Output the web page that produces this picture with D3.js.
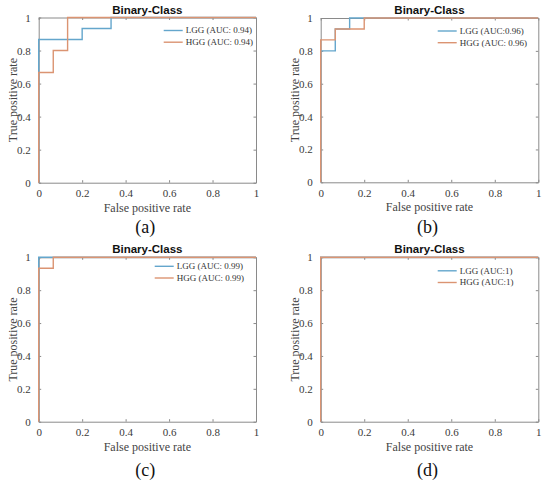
<!DOCTYPE html>
<html>
<head>
<meta charset="utf-8">
<script src="https://cdn.jsdelivr.net/npm/d3@7"></script>
<style>
  body { margin: 0; background: #fff; }
  svg { display: block; }
  .axis path, .axis line { stroke: #8a8a8a; }
  .axis text { font-family: "Liberation Serif", "Times New Roman", serif; font-size: 11px; fill: #3a3a3a; }
</style>
</head>
<body>
<svg id="chart" width="550" height="485"></svg>
<script>
// ROC points (false positive rate, true positive rate) per panel
const fprA_LGG = [0, 0, 0.2, 0.333, 1];
const tprA_LGG = [0, 0.867, 0.933, 1, 1];
const fprA_HGG = [0, 0, 0.067, 0.133, 1];
const tprA_HGG = [0, 0.667, 0.8, 1, 1];

const fprB_LGG = [0, 0, 0.067, 0.133, 1];
const tprB_LGG = [0, 0.8, 0.933, 1, 1];
const fprB_HGG = [0, 0, 0.067, 0.2, 1];
const tprB_HGG = [0, 0.867, 0.933, 1, 1];

const fprC_LGG = [0, 0, 1];
const tprC_LGG = [0, 1, 1];
const fprC_HGG = [0, 0, 0.067, 1];
const tprC_HGG = [0, 0.933, 1, 1];

const fprD_LGG = [0, 0, 1];
const tprD_LGG = [0, 1, 1];
const fprD_HGG = [0, 0, 1];
const tprD_HGG = [0, 1, 1];

const legendA = ['LGG (AUC: 0.94)', 'HGG (AUC: 0.94)'];
const legendB = ['LGG (AUC:0.96)', 'HGG (AUC: 0.96)'];
const legendC = ['LGG (AUC: 0.99)', 'HGG (AUC: 0.99)'];
const legendD = ['LGG (AUC:1)', 'HGG (AUC:1)'];

const tickValues = [0, 0.2, 0.4, 0.6, 0.8, 1];
const panelLabels = ['(a)', '(b)', '(c)', '(d)'];
const seriesColors = ['#64a6cc', '#db9472'];

const zip = (xs, ys) => xs.map((x, i) => ({ x: x, y: ys[i] }));

const panels = [
    { left: 38.7, top: 17.5, right: 256, bottom: 182.7, legX: 125, legY: 13, labY: 50,
      series: [zip(fprA_LGG, tprA_LGG), zip(fprA_HGG, tprA_HGG)], legend: legendA },
    { left: 320.7, top: 18, right: 538.3, bottom: 182.3, legX: 117, legY: 13, labY: 51,
      series: [zip(fprB_LGG, tprB_LGG), zip(fprB_HGG, tprB_HGG)], legend: legendB },
    { left: 38.7, top: 257.3, right: 256, bottom: 421.7, legX: 116, legY: 9, labY: 54,
      series: [zip(fprC_LGG, tprC_LGG), zip(fprC_HGG, tprC_HGG)], legend: legendC },
    { left: 320.7, top: 257.3, right: 538.3, bottom: 421.7, legX: 117, legY: 13.5, labY: 54,
      series: [zip(fprD_LGG, tprD_LGG), zip(fprD_HGG, tprD_HGG)], legend: legendD }
];

const svg = d3.select('#chart');

panels.forEach((p, idx) => {
    const width = p.right - p.left;
    const height = p.bottom - p.top;
    const g = svg.append('g').attr('transform', `translate(${p.left}, ${p.top})`);
    const xScale = d3.scaleLinear().domain([0, 1]).range([0, width]);
    const yScale = d3.scaleLinear().domain([0, 1]).range([height, 0]);
    const fmt = d => d === 0 || d === 1 ? String(d) : d3.format('.1f')(d);

    // box with inward ticks on all four sides
    g.append('g').attr('class', 'axis')
        .attr('transform', `translate(0, ${height})`)
        .call(d3.axisBottom(xScale).tickValues(tickValues).tickFormat(fmt).tickSizeInner(-2.5).tickSizeOuter(0).tickPadding(7));
    g.append('g').attr('class', 'axis')
        .call(d3.axisLeft(yScale).tickValues(tickValues).tickFormat(fmt).tickSizeInner(-2.5).tickSizeOuter(0).tickPadding(8));
    g.append('g').attr('class', 'axis')
        .call(d3.axisTop(xScale).tickValues(tickValues).tickFormat('').tickSizeInner(-2.5).tickSizeOuter(0));
    g.append('g').attr('class', 'axis')
        .attr('transform', `translate(${width}, 0)`)
        .call(d3.axisRight(yScale).tickValues(tickValues).tickFormat('').tickSizeInner(-2.5).tickSizeOuter(0));

    const line = d3.line()
        .x(d => xScale(d.x))
        .y(d => yScale(d.y))
        .curve(d3.curveStepAfter);

    g.selectAll('path.roc')
        .data(p.series)
        .enter()
        .append('path')
        .attr('class', 'roc')
        .attr('d', line)
        .attr('fill', 'none')
        .attr('stroke', (d, i) => seriesColors[i])
        .attr('stroke-width', 1.4);

    // legend
    const legend = g.selectAll('g.legend')
        .data(p.legend)
        .enter()
        .append('g')
        .attr('class', 'legend')
        .attr('transform', (d, i) => `translate(${p.legX}, ${p.legY + i * 11.7})`);
    legend.append('line')
        .attr('x1', 0)
        .attr('x2', 19)
        .attr('stroke', (d, i) => seriesColors[i])
        .attr('stroke-width', 1.4);
    legend.append('text')
        .attr('x', 22)
        .attr('dy', '0.32em')
        .attr('font-family', '"Liberation Serif", serif')
        .attr('font-size', 9)
        .attr('fill', '#333')
        .text(d => d);

    // title, axis labels, panel label
    g.append('text')
        .attr('x', width / 2)
        .attr('y', -4)
        .attr('text-anchor', 'middle')
        .attr('font-family', '"Liberation Sans", Arial, sans-serif')
        .attr('font-weight', 'bold')
        .attr('font-size', 11.5)
        .attr('fill', '#111')
        .text('Binary-Class');
    g.append('text')
        .attr('x', width / 2)
        .attr('y', height + 29)
        .attr('text-anchor', 'middle')
        .attr('font-family', '"Liberation Serif", serif')
        .attr('font-size', 12)
        .attr('fill', '#444')
        .text('False positive rate');
    g.append('text')
        .attr('transform', `translate(-22, ${height / 2}) rotate(-90)`)
        .attr('text-anchor', 'middle')
        .attr('font-family', '"Liberation Serif", serif')
        .attr('font-size', 12)
        .attr('fill', '#444')
        .text('True positive rate');
    g.append('text')
        .attr('x', width / 2 - 2)
        .attr('y', height + p.labY)
        .attr('text-anchor', 'middle')
        .attr('font-family', '"Liberation Serif", serif')
        .attr('font-size', 18)
        .attr('fill', '#111')
        .text(panelLabels[idx]);
});
</script>
</body>
</html>
